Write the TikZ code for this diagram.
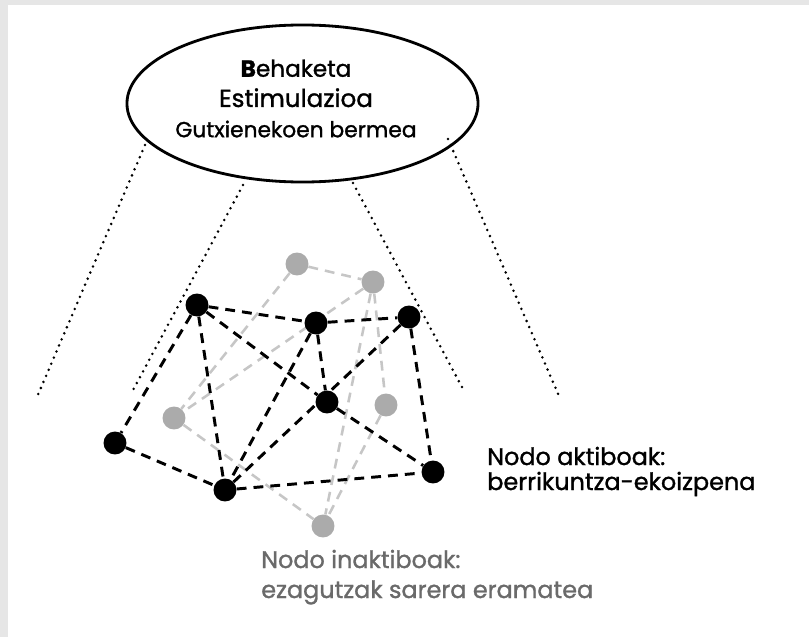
\documentclass[tikz,border=0pt]{standalone}
\usepackage{fontspec}
\setmainfont{Poppins}[FakeBold=1.2]
\usetikzlibrary{shapes.geometric}
\definecolor{framegray}{HTML}{E6E6E6}
\definecolor{nodegray}{HTML}{ABABAB}
\definecolor{edgegray}{HTML}{C6C6C6}
\definecolor{textgray}{HTML}{6A6A6A}
\pgfdeclarelayer{back}
\pgfdeclarelayer{mid}
\pgfsetlayers{back,mid,main}
\begin{document}
\begin{tikzpicture}[x=0.025cm,y=-0.025cm,
    act/.style={circle,fill=black,inner sep=0pt,minimum size=16.3pt},
    inact/.style={circle,fill=nodegray,inner sep=0pt,minimum size=16.3pt},
    actline/.style={draw=black,line width=2.1pt,dash pattern=on 7pt off 5pt},
    inactline/.style={draw=edgegray,line width=1.8pt,dash pattern=on 7pt off 5pt},
    guide/.style={draw=black,line width=2pt,line cap=round,dash pattern=on 0pt off 4.7pt},
    label/.style={anchor=base west,inner sep=0pt,font=\fontsize{17}{20}\selectfont}]
  \begin{pgfonlayer}{back}
    \fill[framegray] (0,0) rectangle (809,637);
    \fill[white] (8,5) rectangle (809,637);
  \end{pgfonlayer}
  % ellipse at the top
  \node[ellipse,draw,line width=2pt,minimum width=8.775cm,minimum height=3.925cm] (ell) at (302.5,103.5) {};
  \node[align=center,font=\fontsize{16.5}{21.5}\selectfont] (obs) at (296,98.5)
    {\textbf{B}ehaketa\\{\fontsize{17.5}{21.5}\selectfont Estimulazioa}\\{\fontsize{15.5}{21.5}\selectfont Gutxienekoen bermea}};
  % inactive nodes
  \node[inact] (i1) at (297,264) {};
  \node[inact] (i2) at (373,282) {};
  \node[inact] (i3) at (174,418) {};
  \node[inact] (i4) at (386,405) {};
  \node[inact] (i5) at (323,526) {};
  % active nodes
  \node[act] (a1) at (197,305) {};
  \node[act] (a2) at (316,323) {};
  \node[act] (a3) at (409,317) {};
  \node[act] (a4) at (327,402) {};
  \node[act] (a5) at (115,443) {};
  \node[act] (a6) at (225,490) {};
  \node[act] (a7) at (433,472) {};
  \begin{pgfonlayer}{mid}
    \foreach \u/\v in {i1/i2,i1/i3,i2/i3,i2/i5,i2/i4,i4/i5,i3/i5}
      \draw[inactline] (\u) -- (\v);
    \foreach \u/\v in {a1/a2,a2/a3,a1/a5,a1/a6,a1/a4,a2/a6,a2/a4,a3/a6,a4/a7,a3/a7,a5/a6,a6/a7}
      \draw[actline] (\u) -- (\v);
  \end{pgfonlayer}
  % dotted guides from the ellipse
  \coordinate (g1s) at (145,145); \coordinate (g1e) at (37,397);
  \coordinate (g2s) at (243,185); \coordinate (g2e) at (132,392);
  \coordinate (g3s) at (353,183); \coordinate (g3e) at (463,389);
  \coordinate (g4s) at (448,139); \coordinate (g4e) at (559,396);
  \foreach \g in {g1,g2,g3,g4}
    \draw[guide] (\g s) -- (\g e);
  % labels
  \node[label] (actTitle) at (487,465) {Nodo aktiboak:};
  \node[label] (actText) at (487,490) {berrikuntza-ekoizpena};
  \node[label,text=textgray] (inactTitle) at (261,568) {Nodo inaktiboak:};
  \node[label,text=textgray] (inactText) at (261,598) {ezagutzak sarera eramatea};
\end{tikzpicture}
\end{document}
